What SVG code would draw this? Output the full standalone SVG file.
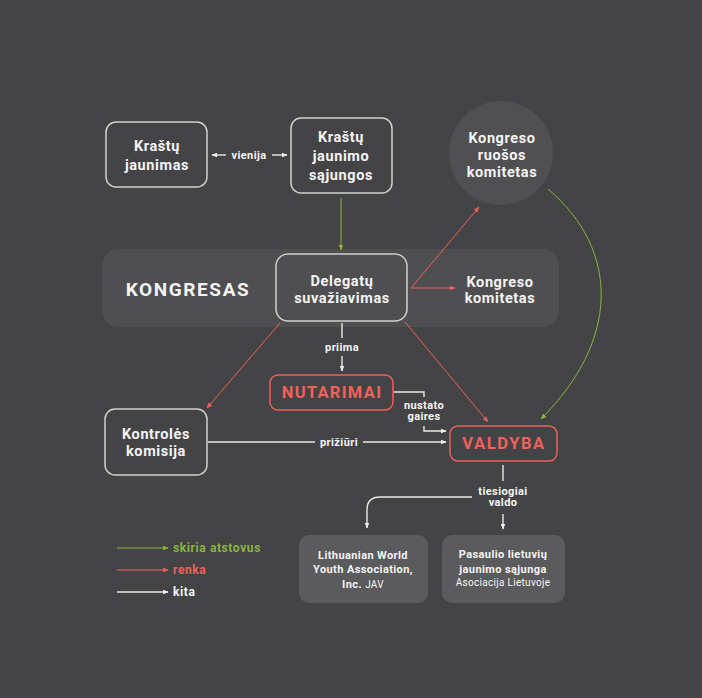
<svg xmlns="http://www.w3.org/2000/svg" width="702" height="698" viewBox="0 0 702 698">
<defs>
<style>
text{font-family:Roboto,"Liberation Sans",sans-serif;font-weight:700;fill:#f4f4f4;text-anchor:middle}
.n{font-size:14.5px;letter-spacing:0.6px}
.l{font-size:11px;letter-spacing:0.4px}
.lg{font-size:12px;letter-spacing:0.6px;text-anchor:start}
.box{fill:none;stroke:#cfcfcf;stroke-width:1.5}
.rbox{fill:none;stroke:#ee5f57;stroke-width:1.5}
.red{fill:#f0625a}
.g{stroke:#8ab43c;stroke-width:1;fill:none}
.r{stroke:#ee5f57;stroke-width:1;fill:none}
.w{stroke:#e8e8e8;stroke-width:1.4;fill:none}
.sm{font-size:10px;font-weight:400;letter-spacing:0.3px}
</style>
<marker id="mg" viewBox="0 0 10 10" refX="9" refY="5" markerWidth="6" markerHeight="6" markerUnits="userSpaceOnUse" orient="auto"><path d="M0,1 L10,5 L0,9 z" fill="#8ab43c"/></marker>
<marker id="mr" viewBox="0 0 10 10" refX="9" refY="5" markerWidth="6" markerHeight="6" markerUnits="userSpaceOnUse" orient="auto"><path d="M0,1 L10,5 L0,9 z" fill="#ee5f57"/></marker>
<marker id="mw" viewBox="0 0 10 10" refX="9" refY="5" markerWidth="6" markerHeight="6" markerUnits="userSpaceOnUse" orient="auto"><path d="M0,1 L10,5 L0,9 z" fill="#f0f0f0"/></marker>
</defs>
<rect x="0" y="0" width="702" height="698" fill="#444446"/>

<g id="kongresas-band">
<rect x="102" y="249" width="457" height="78" rx="16" fill="#4f4f51"/>
<text x="188" y="296" style="font-size:19px;letter-spacing:1.6px">KONGRESAS</text>
</g>

<g id="connectors">
<line class="w" x1="226" y1="155" x2="212" y2="155" marker-end="url(#mw)"/>
<line class="w" x1="272" y1="155" x2="287" y2="155" marker-end="url(#mw)"/>
<text class="l" x="249" y="159">vienija</text>
<line class="g" x1="341" y1="198" x2="341" y2="250" marker-end="url(#mg)"/>
<line class="r" x1="411" y1="288" x2="455" y2="288" marker-end="url(#mr)"/>
<line class="r" x1="411" y1="288" x2="479" y2="207" marker-end="url(#mr)"/>
<path class="g" d="M548,189 C620,250 620,340 541,419" marker-end="url(#mg)"/>
<line class="r" x1="280" y1="323" x2="207" y2="408" marker-end="url(#mr)"/>
<line class="r" x1="405" y1="322" x2="488" y2="422" marker-end="url(#mr)"/>
<line class="w" x1="342" y1="323" x2="342" y2="338"/>
<text class="l" x="342" y="351">priima</text>
<line class="w" x1="342" y1="356" x2="342" y2="371" marker-end="url(#mw)"/>
<polyline class="w" points="394,392 424,392 424,397"/>
<text class="l" x="424" y="409">nustato</text>
<text class="l" x="424" y="420">gaires</text>
<polyline class="w" points="424,426 424,431 446,431" marker-end="url(#mw)"/>
<line class="w" x1="208" y1="442" x2="315" y2="442"/>
<text class="l" x="339" y="446">prižiūri</text>
<line class="w" x1="363" y1="442" x2="446" y2="442" marker-end="url(#mw)"/>
<line class="w" x1="503" y1="465" x2="503" y2="481"/>
<text class="l" x="503" y="495">tiesiogiai</text>
<text class="l" x="503" y="506">valdo</text>
<path class="w" d="M472,497 L380,497 Q367,497 367,510 L367,528" marker-end="url(#mw)"/>
<line class="w" x1="503" y1="514" x2="503" y2="529" marker-end="url(#mw)"/>
</g>

<g id="krastu-jaunimas">
<rect class="box" x="106" y="122" width="101" height="65" rx="10"/>
<text class="n" x="157" y="151">Kraštų</text>
<text class="n" x="157" y="170">jaunimas</text>
</g>

<g id="krastu-jaunimo-sajungos">
<rect class="box" x="291" y="118" width="101" height="75" rx="10"/>
<text class="n" x="341" y="142">Kraštų</text>
<text class="n" x="341" y="161">jaunimo</text>
<text class="n" x="341" y="180">sąjungos</text>
</g>

<g id="kongreso-ruosos-komitetas">
<circle cx="501" cy="153" r="52" fill="#505052"/>
<text class="n" x="502" y="143">Kongreso</text>
<text class="n" x="502" y="160">ruošos</text>
<text class="n" x="502" y="177">komitetas</text>
</g>

<g id="delegatu-suvaziavimas">
<rect class="box" x="276" y="254" width="131" height="67" rx="12"/>
<text class="n" x="342" y="286">Delegatų</text>
<text class="n" x="342" y="303">suvažiavimas</text>
</g>

<g id="kongreso-komitetas">
<text class="n" x="500" y="287">Kongreso</text>
<text class="n" x="500" y="303">komitetas</text>
</g>

<g id="nutarimai">
<rect class="rbox" x="270" y="375" width="123" height="35" rx="8"/>
<text class="red" x="332" y="398" style="font-size:16.5px;letter-spacing:1.3px">NUTARIMAI</text>
</g>

<g id="kontroles-komisija">
<rect class="box" x="105" y="409" width="102" height="66" rx="10"/>
<text class="n" x="156" y="439">Kontrolės</text>
<text class="n" x="156" y="456">komisija</text>
</g>

<g id="valdyba">
<rect class="rbox" x="450" y="426" width="107" height="35" rx="8"/>
<text class="red" x="504" y="449" style="font-size:16.5px;letter-spacing:1.6px">VALDYBA</text>
</g>

<g id="lwya">
<rect x="299" y="535" width="129" height="68" rx="10" fill="#5b5b5d"/>
<text class="l" x="363" y="559">Lithuanian World</text>
<text class="l" x="363" y="573">Youth Association,</text>
<text class="l" x="363" y="588">Inc. <tspan class="sm">JAV</tspan></text>
</g>

<g id="pljs">
<rect x="442" y="535" width="123" height="68" rx="10" fill="#5b5b5d"/>
<text class="l" x="503" y="558">Pasaulio lietuvių</text>
<text class="l" x="503" y="573">jaunimo sąjunga</text>
<text class="sm" x="503" y="586">Asociacija Lietuvoje</text>
</g>

<g id="legend">
<line class="g" x1="117" y1="548" x2="168" y2="548" stroke-width="1.4" marker-end="url(#mg)"/>
<text class="lg" x="173" y="552" style="fill:#8ab43c">skiria atstovus</text>
<line class="r" x1="117" y1="570" x2="168" y2="570" stroke-width="1.4" marker-end="url(#mr)"/>
<text class="lg" x="173" y="574" style="fill:#f0625a">renka</text>
<line class="w" x1="117" y1="592" x2="168" y2="592" marker-end="url(#mw)"/>
<text class="lg" x="173" y="596">kita</text>
</g>
</svg>
